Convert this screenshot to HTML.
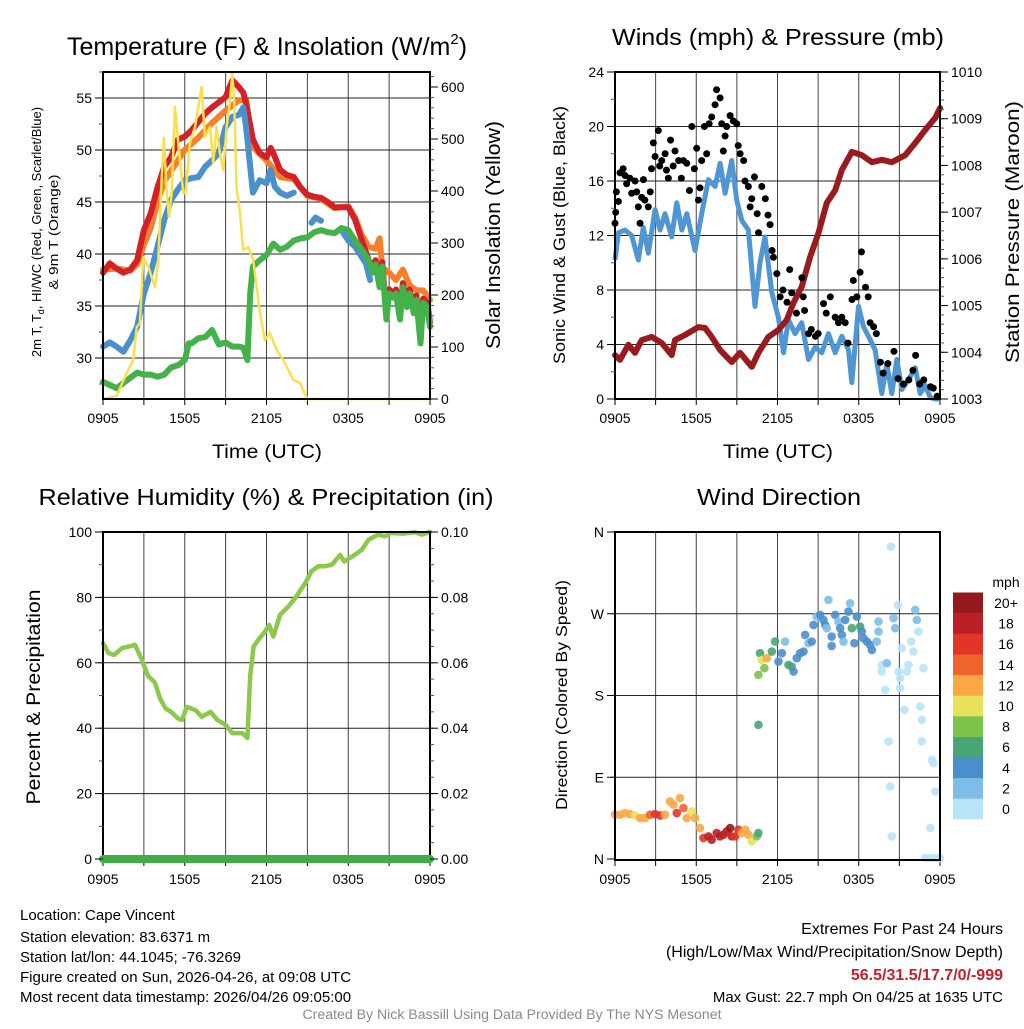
<!DOCTYPE html>
<html><head><meta charset="utf-8"><style>
html,body{margin:0;padding:0;background:#fff;}
svg text{font-family:"Liberation Sans",Arial,sans-serif;fill:#000;}
</style></head><body>
<svg id="fig" xmlns="http://www.w3.org/2000/svg" width="1024" height="1024" viewBox="0 0 1024 1024">
<rect width="1024" height="1024" fill="#fff"/>
<g id="root"></g>
<text x="20" y="920" font-size="15">Location: Cape Vincent</text>
<text x="20" y="942" font-size="15">Station elevation: 83.6371 m</text>
<text x="20" y="962" font-size="15">Station lat/lon: 44.1045; -76.3269</text>
<text x="20" y="982" font-size="15">Figure created on Sun, 2026-04-26, at 09:08 UTC</text>
<text x="20" y="1002" font-size="15">Most recent data timestamp: 2026/04/26 09:05:00</text>
<text x="1003" y="934" font-size="16" text-anchor="end">Extremes For Past 24 Hours</text>
<text x="1003" y="957" font-size="16" text-anchor="end">(High/Low/Max Wind/Precipitation/Snow Depth)</text>
<text x="1003" y="980" font-size="16" font-weight="bold" text-anchor="end" style="fill:#c8202a">56.5/31.5/17.7/0/-999</text>
<text x="1003" y="1002" font-size="15" text-anchor="end">Max Gust: 22.7 mph On 04/25 at 1635 UTC</text>
<text x="512" y="1019" font-size="13.5" text-anchor="middle" textLength="419" lengthAdjust="spacingAndGlyphs" style="fill:#8a8a8a">Created By Nick Bassill Using Data Provided By The NYS Mesonet</text>
</svg>
<script>
// ---------- Panel 1 data ----------
const redHours=[0,0.5,1,1.5,2,2.5,3,3.5,4,4.5,5,5.5,6,6.5,7,7.5,8,8.5,9,9.5,10,10.3,10.5,11,11.5,12,12.3,12.5,13,13.5,14,14.5,15,15.5,16,16.5,17,17.5,18,18.5,19,19.5,19.8,20,20.3,20.5,20.8,21,21.3,21.5,21.8,22,22.3,22.5,22.8,23,23.3,23.5,23.8,24];
const redVals=[38.2,39.1,38.6,38.2,38.5,39.4,42.3,43.9,46.4,48.4,49.3,51.0,51.3,51.9,52.7,53.5,54.1,54.6,55.1,56.7,56.0,55.5,54.5,51.0,49.7,49.3,50.2,49.7,48.1,47.6,47.4,46.4,45.7,45.5,45.4,45.0,44.5,44.5,44.5,43.3,41.3,39.4,38.6,39.4,37.2,39.2,34.1,36.6,36.2,36.6,34.1,37.2,35.3,36.6,34.7,36.0,31.8,35.7,35.3,33.4];
const orangeHours=[0,1,2,2.5,3,3.5,4,4.5,5,6,7,8,9,10,10.5,11,12,13,14,15,16,17,18,18.5,19,19.5,20,20.3,20.5,21,21.5,22,22.5,23,23.5,24];
const orangeVals=[38.5,38.6,38.4,39.0,40.9,42.5,45.0,47.0,48.0,50.0,51.2,52.6,53.8,54.8,54.8,50.3,49.0,47.4,47.2,45.6,45.3,44.4,44.6,43.5,41.8,40.7,40.5,41.5,38.7,38.2,37.5,38.5,37.0,36.5,36.5,35.6];
const blueHours=[0,0.5,1,1.5,2,2.5,3,3.5,4,4.5,5,5.5,6,6.5,7,7.5,8,8.5,9,9.5,10,10.3,10.5,11,11.5,12,12.3,12.6,13,13.5,14,14.1,15.3,15.6,16,16.1,17.5,18,18.5,19,19.3,19.6];
const blueVals=[31.1,31.5,31.1,30.6,31.7,33.0,36.2,38.2,40.7,43.3,45.2,46.2,47.1,47.3,47.4,48.4,49.0,49.7,52.2,53.2,53.4,54.1,52.2,45.9,47.1,46.8,48.1,46.5,45.9,45.6,45.9,null,43.0,43.5,43.2,null,42.3,41.3,40.7,39.7,39.1,37.5];
const greenHours=[0,0.5,1,1.5,2,2.5,3,3.5,4,4.5,5,5.5,6,6.3,6.5,7,7.5,8,8.5,9,9.5,10,10.3,10.6,10.8,11,11.5,12,12.5,13,13.5,14,14.5,15,15.5,16,16.5,17,17.5,18,18.5,19,19.5,19.8,20,20.3,20.5,20.8,21,21.3,21.5,21.8,22,22.3,22.5,22.8,23,23.3,23.5,23.8,24];
const greenVals=[27.7,27.4,27.1,27.6,28.1,28.6,28.4,28.4,28.2,28.4,29.1,29.3,29.8,31.4,31.4,31.9,32.0,32.7,31.3,31.5,31.1,31.1,31.0,29.8,36.2,38.8,39.4,39.9,41.0,40.4,40.7,41.3,41.5,41.6,42.1,42.3,42.1,42.0,42.5,42.3,41.3,40.4,39.4,38.2,39.0,36.8,38.8,33.7,36.2,35.8,36.2,33.7,36.8,34.9,36.2,34.3,35.6,31.4,35.3,34.9,33.0];
const solarHours=[0,1.0,1.74,2.22,2.47,2.71,2.96,3.33,3.81,4.06,4.30,4.47,4.67,4.84,5.04,5.28,5.53,5.89,6.06,6.38,6.75,7.24,7.48,7.85,8.09,8.34,8.58,8.83,9.07,9.32,9.49,9.63,9.80,10.05,10.29,10.66,11.03,11.52,11.88,12.26,12.74,13.23,13.96,14.45,14.99,24];
const solarVals=[0,6,50,75,138,146,273,254,215,267,421,502,402,350,396,562,492,396,396,492,523,600,504,523,454,523,473,440,523,573,627,573,408,358,287,292,267,165,113,127,94,75,37,31,0,0];
const tempTicks=[30,35,40,45,50,55];
const solarTicks=[0,100,200,300,400,500,600];
const timeTickLabels=["0905","1505","2105","0305","0905"];
// ---------- Panel 2 data ----------
const pressHours=[0,0.37,0.99,1.48,1.97,2.71,3.45,4.19,4.43,5.17,6.16,6.65,7.14,7.76,8.62,9.24,10.1,10.59,11.33,12.07,12.68,13.18,13.79,14.41,15.02,15.64,16.26,16.75,17.49,18.23,18.97,19.7,20.44,21.43,22.17,22.91,23.65,24];
const pressVals=[1003.94,1003.84,1004.16,1003.99,1004.26,1004.33,1004.2,1003.94,1004.26,1004.37,1004.54,1004.52,1004.33,1004.05,1003.79,1003.99,1003.69,1003.99,1004.33,1004.48,1004.69,1005.06,1005.4,1006.04,1006.55,1007.2,1007.47,1007.9,1008.29,1008.22,1008.07,1008.12,1008.07,1008.22,1008.48,1008.76,1009.02,1009.23];
const windHours=[0,0.25,0.74,1.23,1.72,2.09,2.46,2.96,3.33,3.69,4.19,4.56,4.93,5.3,5.91,6.4,6.9,7.39,7.76,8.13,8.62,8.99,9.36,9.85,10.34,10.71,11.08,11.58,12.07,12.44,12.81,13.3,13.79,14.29,14.78,15.27,15.76,16.26,16.75,17.24,17.49,17.98,18.35,18.72,19.21,19.7,20.07,20.44,20.81,21.18,21.67,22.17,22.54,22.91,23.28,23.65,24];
const windVals=[10.2,12.2,12.4,12.0,10.2,12.6,10.7,13.9,12.4,13.6,11.9,14.4,12.4,13.6,10.9,13.6,16.1,15.6,17.3,15.1,17.5,14.6,13.1,12.4,6.8,10.0,11.9,7.8,6.0,3.4,5.8,4.8,5.6,2.9,3.8,3.4,4.8,3.4,4.6,3.6,1.2,6.8,5.3,4.6,3.6,0.4,2.6,0.4,2.9,0.7,1.4,2.3,0.4,1.0,0.1,0,0];
const gustHours=[0,0.05,0.1,0.25,0.37,0.6,0.74,0.86,1.1,1.23,1.48,1.6,1.72,1.85,1.97,2.1,2.2,2.46,2.6,2.7,2.83,2.96,3.2,3.3,3.45,3.7,3.8,3.94,4.1,4.3,4.43,4.7,4.9,5.05,5.3,5.5,5.67,5.86,6.03,6.16,6.28,6.4,6.6,6.77,6.95,7.14,7.39,7.5,7.76,7.88,8.0,8.13,8.25,8.5,8.74,8.99,9.1,9.24,9.5,9.6,9.85,9.98,10.1,10.3,10.5,10.6,10.84,11.1,11.3,11.45,11.6,11.7,11.95,12.2,12.4,12.7,12.9,13.05,13.4,13.8,13.9,14.0,14.3,14.5,14.8,15.0,15.4,15.6,15.9,16.26,16.5,16.75,17.0,17.2,17.5,17.6,17.86,18.1,18.2,18.5,18.7,18.84,19.1,19.3,19.6,19.8,20.15,20.6,20.9,21.3,21.7,22.0,22.2,22.5,22.8,23.3,23.5,23.8];
const gustVals=[12.9,13.7,15.2,14.5,16.6,16.9,16.4,15.8,16.2,15.1,16.0,15.2,14.1,12.9,14.8,16.1,14.6,14.1,15.2,16.9,18.8,17.8,19.7,17.1,17.5,18.0,16.8,16.2,19.0,17.1,18.2,17.5,16.2,17.5,17.3,15.3,20.0,16.9,18.4,14.6,15.5,17.5,20.0,18.0,20.2,20.7,21.6,22.7,22.1,20.2,18.2,19.3,20.0,20.8,20.4,20.2,18.6,18.0,17.5,16.0,15.6,14.1,14.7,16.3,13.6,12.2,15.6,14.7,13.5,12.8,10.9,10.4,9.2,7.5,8.0,7.1,9.5,7.8,6.3,8.9,7.5,6.5,4.8,5.1,4.6,4.8,7.0,6.3,7.5,6.0,5.6,6.0,5.6,4.1,7.3,8.7,7.5,9.3,10.8,8.2,7.5,5.6,5.3,4.8,2.7,1.9,2.6,3.5,1.5,1.1,1.4,2.1,3.2,1.1,1.4,0.9,0.8,0.2];
const windTicks=[0,4,8,12,16,20,24];
const pressTicks=[1003,1004,1005,1006,1007,1008,1009,1010];
// ---------- Panel 3 data ----------
const rhHours=[0,0.4,0.8,1.4,1.9,2.35,2.84,3.3,3.8,4.2,4.6,5.0,5.5,5.8,6.15,6.8,7.25,7.9,8.4,9.0,9.5,10.2,10.6,10.8,11.05,11.4,11.9,12.2,12.5,13.0,13.6,14.1,14.5,14.85,15.3,15.8,16.3,16.8,17.4,17.7,18.3,19.0,19.5,20.2,20.7,21.1,22.0,22.9,23.4,24];
const rhVals=[66,63,62.4,64.5,65,65.5,61,56,54,49,46,45,43,42.5,46.5,45.5,43.5,45,42.5,41,38.5,38.5,37,56,65,67,69.6,71.6,68,74.7,77.2,79.8,82.3,84.4,88,89.5,89.5,90,93,91,92.5,94.6,97.7,99.2,98.7,99.7,99.5,99.9,99.2,100];
const precipHours=[0,24];
const precipVals=[0,0];
const rhTicks=[0,20,40,60,80,100];
const precipTicks=["0.00","0.02","0.04","0.06","0.08","0.10"];
// ---------- Panel 4 data ----------
const dirHours=[0,0.37,0.74,1.11,1.48,1.85,2.22,2.59,2.96,3.33,3.69,4.06,4.31,4.56,4.8,5.05,5.3,5.67,5.91,6.28,6.53,6.9,7.14,7.51,7.76,8.0,8.25,8.5,8.62,8.87,9.11,9.36,9.61,9.85,10.1,10.47,10.59,10.59,10.59,10.71,10.84,11.03,11.21,11.58,11.82,12.07,12.32,12.56,12.81,13.05,13.18,13.42,13.67,13.92,14.04,14.29,14.53,14.66,14.9,15.15,15.39,15.52,15.64,15.76,16.0,16.0,16.26,16.5,16.63,16.75,16.87,17.0,17.24,17.36,17.49,17.68,17.86,18.1,18.23,18.35,18.6,18.84,18.97,19.33,19.46,19.46,19.7,19.7,19.95,20.07,20.2,20.32,20.37,20.44,20.57,20.69,20.89,20.94,21.06,21.18,21.06,21.38,21.55,21.67,21.87,22.04,22.17,22.29,22.41,22.54,22.66,22.66,22.78,23.4,23.52,23.28,23.65,22.91,23.28,23.65,24.0];
const dirDeg=[48.8,48.8,50.6,49.5,48.0,45.1,45.1,48.8,49.5,48.0,48.8,63.4,59.8,50.6,67.1,56.1,45.1,52.4,45.1,34.1,23.1,24.9,21.3,28.6,24.9,26.8,30.4,34.1,24.9,24.9,32.3,28.6,32.3,26.8,19.4,24.9,28.6,147.7,202.7,226.6,219.2,210.1,221.1,228.4,239.4,217.4,226.6,239.4,213.7,211.9,206.4,221.1,226.6,228.4,246.7,237.6,239.4,257.7,266.9,268.7,263.2,257.7,254.1,285.2,244.9,234.6,268.7,261.4,254.1,246.7,239.4,263.2,272.4,281.5,254.1,237.6,266.9,255.9,250.4,243.1,239.4,235.7,230.2,239.4,261.4,250.4,213.7,206.4,186.2,215.6,129.4,79.9,343.9,24.9,265.1,254.1,279.7,206.4,199.1,232.1,188.1,164.2,206.4,213.7,239.4,228.4,274.2,263.2,250.4,167.9,153.2,129.4,210.1,109.2,105.6,34.1,74.4,1.1,1.1,1.1,1.1];
const dirSpeed=[13,13,13,13,11,13,13,15,17,17,13,13,13,17,13,15,13,11,13,13,17,19,19,19,19,19,19,21,19,17,17,13,13,13,11,9,7,7,9,7,11,9,13,7,7,5,5,3,7,7,5,5,5,5,5,3,5,5,3,5,5,5,3,3,5,5,5,3,5,5,3,5,5,3,7,5,5,7,5,5,5,5,5,3,3,3,1,1,1,3,1,1,1,1,3,3,1,1,1,1,1,1,1,1,1,1,3,3,1,1,1,1,1,1,1,1,1,1,1,1,1];
const dirTickLabels=["N","E","S","W","N"];
const speedBinLabels=["0","2","4","6","8","10","12","14","16","18","20+"];
const speedColors=["#b9e4f8","#7fbce7","#4a8fca","#47a674","#7cc24b","#e8e15a","#f8a946","#f0632a","#e03527","#bd1e25","#951a1d"];

const NS="http://www.w3.org/2000/svg";
const root=document.getElementById('root');
function mk(tag,attrs,parent){const e=document.createElementNS(NS,tag);for(const k in attrs)e.setAttribute(k,attrs[k]);(parent||root).appendChild(e);return e;}
function lin(d0,d1,r0,r1){return v=>r0+(v-d0)*(r1-r0)/(d1-d0);}
function pathFrom(hs,vs,xf,yf){let d="",pen=false;for(let i=0;i<Math.min(hs.length,vs.length);i++){if(vs[i]===null){pen=false;continue;}d+=(pen?"L":"M")+xf(hs[i]).toFixed(1)+","+yf(vs[i]).toFixed(1);pen=true;}return d;}

function frame(P,hTicks,vTickYs,name){
  const g=mk('g',{});
  
  
  for(let h=3;h<24;h+=3){const x=P.xs(h);mk('line',{x1:x,y1:P.y0,x2:x,y2:P.y1,stroke:'#444','stroke-width':1},g);}
  vTickYs.forEach(y=>mk('line',{x1:P.x0,y1:y,x2:P.x1,y2:y,stroke:'#222','stroke-width':1},g));
  for(let h=0;h<=24;h+=3){const x=P.xs(h);mk('line',{x1:x,y1:P.y1,x2:x,y2:P.y1+6,stroke:'#000','stroke-width':1},g);}
  timeTickLabels.forEach((t,i)=>{const tx=mk('text',{x:P.xs(i*6),y:P.y1+24,'font-size':14,'text-anchor':'middle'},g);tx.textContent=t;});
}
function border(P,name){
  const r=mk('rect',{x:P.x0,y:P.y0,width:P.x1-P.x0,height:P.y1-P.y0,fill:'none',stroke:'#000','stroke-width':2});
  
  
}
function yAxis(P,side,majors,labels,yf,minorStep,minorFrom,minorTo,name){
  const g=mk('g',{});
  
  
  const x=side==='left'?P.x0:P.x1, dir=side==='left'?-1:1;
  for(let v=minorFrom;v<=minorTo+1e-9;v+=minorStep){const y=yf(v);if(y<P.y0-0.5||y>P.y1+0.5)continue;mk('line',{x1:x,y1:y,x2:x+dir*4,y2:y,stroke:'#555','stroke-width':1},g);}
  majors.forEach((v,i)=>{const y=yf(v);mk('line',{x1:x,y1:y,x2:x+dir*8,y2:y,stroke:'#000','stroke-width':1},g);
    const t=mk('text',{x:x+dir*11,y:y+5,'font-size':14,'text-anchor':side==='left'?'end':'start'},g);t.textContent=labels[i];});
}
function title(x,y,txt,len,name,size){const t=mk('text',{x:x,y:y,'font-size':size||23,'text-anchor':'middle',textLength:len,lengthAdjust:'spacingAndGlyphs'});t.textContent=txt;
  
  return t;}
function vlabel(x,y,txt,size,len,name){const t=mk('text',{x:0,y:0,'font-size':size,'text-anchor':'middle',transform:`translate(${x},${y}) rotate(-90)`,textLength:len,lengthAdjust:'spacingAndGlyphs'});t.textContent=txt;
  
  return t;}

// ===== Panel 1 =====
const P1={x0:103,x1:430,y0:72,y1:399};P1.xs=lin(0,24,P1.x0,P1.x1);
const yT=lin(55,30,98,358), yS=lin(0,600,399,87);
frame(P1,[],tempTicks.map(yT),'temp-panel');
const s1=[['orange-9m-temp',orangeHours,orangeVals,'#f5802b',6],['red-2m-temp',redHours,redVals,'#d42027',6],['blue-windchill',blueHours,blueVals,'#4a90cc',6],['green-dewpoint',greenHours,greenVals,'#44b24a',6]];
s1.forEach(s=>{const p=mk('path',{d:pathFrom(s[1],s[2],P1.xs,yT),fill:'none',stroke:s[3],'stroke-width':s[4],'stroke-linejoin':'round','stroke-linecap':'round'});
  
  });
const sp=mk('path',{d:pathFrom(solarHours,solarVals,P1.xs,yS),fill:'none',stroke:'#fbe04e','stroke-width':2.5,'stroke-linejoin':'round'});


border(P1,'temp-panel');
yAxis(P1,'left',tempTicks,tempTicks.map(String),yT,2.5,27.5,57.5,'temp-y-axis');
yAxis(P1,'right',solarTicks,solarTicks.map(String),yS,20,0,620,'solar-y-axis');
const t1=mk('text',{x:267,y:55,'font-size':25,'text-anchor':'middle'});


t1.appendChild(document.createTextNode('Temperature (F) & Insolation (W/m'));
const sup=mk('tspan',{'font-size':15,dy:-11},t1);sup.textContent='2';
const close=mk('tspan',{dy:11},t1);close.textContent=')';
title(267,458,'Time (UTC)',110,'temp-x-axis-title',19);
const yl=mk('text',{x:0,y:0,'font-size':13,'text-anchor':'middle',transform:'translate(41,232) rotate(-90)'});


yl.appendChild(document.createTextNode('2m T, T'));
const sub=mk('tspan',{'font-size':9,dy:3},yl);sub.textContent='d';
const rest=mk('tspan',{dy:-3},yl);rest.textContent=', HI/WC (Red, Green, Scarlet/Blue)';
vlabel(58,232,'& 9m T (Orange)',13,115,'temp-y-axis-title-line2');
vlabel(500,235,'Solar Insolation (Yellow)',20,228,'solar-y-axis-title');

// ===== Panel 2 =====
const P2={x0:615,x1:940,y0:72,y1:399};P2.xs=lin(0,24,P2.x0,P2.x1);
const yW=lin(0,24,399,72), yP=lin(1003,1010,399,72);
frame(P2,[],[4,8,12,16,20].map(yW),'wind-panel');
const wp=mk('path',{d:pathFrom(windHours,windVals,P2.xs,yW),fill:'none',stroke:'#4f96d3','stroke-width':5,'stroke-linejoin':'round'});


const pp=mk('path',{d:pathFrom(pressHours,pressVals,P2.xs,yP),fill:'none',stroke:'#9a1b1e','stroke-width':6,'stroke-linejoin':'round','stroke-linecap':'round'});


const gg=mk('g',{});


for(let i=0;i<gustHours.length;i++){mk('circle',{cx:P2.xs(gustHours[i]),cy:yW(gustVals[i]),r:3.5,fill:'#000'},gg);}
border(P2,'wind-panel');
yAxis(P2,'left',windTicks,windTicks.map(String),yW,2,0,24,'wind-y-axis');
yAxis(P2,'right',pressTicks,pressTicks.map(String),yP,0.2,1003,1010,'pressure-y-axis');
title(778,45,'Winds (mph) & Pressure (mb)',332,'wind-panel-title');
title(778,458,'Time (UTC)',110,'wind-x-axis-title',19);
vlabel(565,235,'Sonic Wind & Gust (Blue, Black)',17,258,'wind-y-axis-title');
vlabel(1019,232,'Station Pressure (Maroon)',19,262,'pressure-y-axis-title');

// ===== Panel 3 =====
const P3={x0:103,x1:430,y0:532,y1:860};P3.xs=lin(0,24,P3.x0,P3.x1);
const yR=lin(0,100,859,532), yPr=lin(0,0.1,859,532);
frame(P3,[],[20,40,60,80].map(yR),'rh-panel');
const rp=mk('path',{d:pathFrom(rhHours,rhVals,P3.xs,yR),fill:'none',stroke:'#8cc84b','stroke-width':4.5,'stroke-linejoin':'round','stroke-linecap':'round'});


border(P3,'rh-panel');
const prp=mk('path',{d:pathFrom(precipHours,precipVals,P3.xs,yPr),fill:'none',stroke:'#3fae49','stroke-width':8,'stroke-linecap':'round'});


yAxis(P3,'left',rhTicks,rhTicks.map(String),yR,10,0,100,'rh-y-axis');
yAxis(P3,'right',precipTicks.map(Number),precipTicks,yPr,0.005,0,0.1,'precip-y-axis');
title(266,505,'Relative Humidity (%) & Precipitation (in)',455,'rh-panel-title');
vlabel(40,697,'Percent & Precipitation',19,215,'rh-y-axis-title');

// ===== Panel 4 =====
const P4={x0:615,x1:940,y0:532,y1:860};P4.xs=lin(0,24,P4.x0,P4.x1);
const yD=lin(0,360,859,532);
frame(P4,[],[90,180,270].map(yD),'direction-panel');
const dg=mk('g',{});


for(let i=0;i<dirHours.length;i++){const bin=Math.min(10,Math.floor(dirSpeed[i]/2));
  mk('circle',{cx:P4.xs(Math.min(24,dirHours[i])),cy:yD(dirDeg[i]),r:4.3,fill:speedColors[bin],'fill-opacity':0.9},dg);}
border(P4,'direction-panel');
yAxis(P4,'left',[0,90,180,270,360],dirTickLabels,yD,90,0,360,'direction-y-axis');
title(779,505,'Wind Direction',164,'direction-panel-title');
vlabel(567,695,'Direction (Colored By Speed)',16,230,'direction-y-axis-title');
// colorbar
const cb=mk('g',{});


const mph=mk('text',{x:1006,y:587,'font-size':14,'text-anchor':'middle'},cb);mph.textContent='mph';
speedBinLabels.forEach((lab,i)=>{const k=10-i;const y=592.5+k*20.6;
  mk('rect',{x:953,y:y,width:30,height:20.8,fill:speedColors[i]},cb);
  const t=mk('text',{x:1006,y:y+15.5,'font-size':14,'text-anchor':'middle'},cb);t.textContent=lab;});
</script>
</body></html>
